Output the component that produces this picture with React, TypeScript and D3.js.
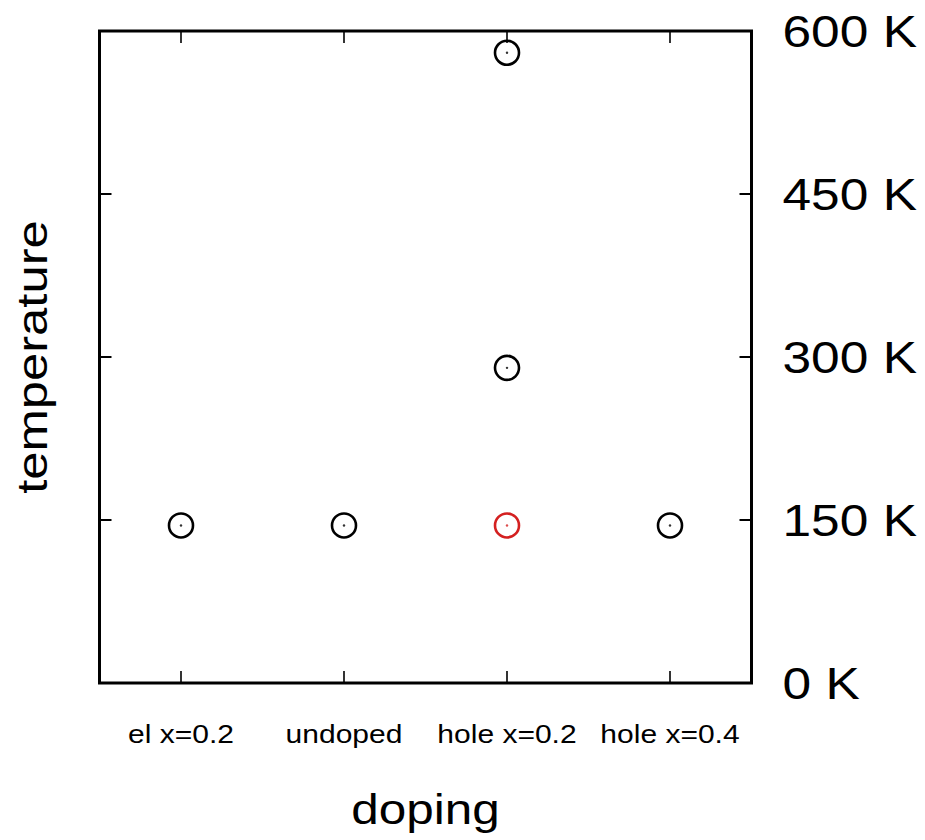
import React from "react";
import * as d3 from "d3";

const categories = ["el x=0.2", "undoped", "hole x=0.2", "hole x=0.4"];
const pointCategories = ["el x=0.2", "undoped", "hole x=0.2", "hole x=0.4", "hole x=0.2", "hole x=0.2"];
const pointTemperatures = [145, 145, 145, 145, 290, 580];
const pointHighlighted = [false, false, true, false, false, false];
const yTicks = [0, 150, 300, 450, 600];
const yTickLabels = ["0 K", "150 K", "300 K", "450 K", "600 K"];
const xTitle = "doping";
const yTitle = "temperature";

const W = 925;
const H = 840;
const left = 99.5;
const right = 751.5;
const top = 31;
const bottom = 683;
const FONT = "'Liberation Sans', Arial, sans-serif";
const SX = 1.17;

export default function App() {
  const x = d3.scalePoint<string>().domain(categories).range([left, right]).padding(0.5);
  const y = d3.scaleLinear().domain([0, 600]).range([bottom, top]);
  const tickLen = 12;

  return (
    <svg
      width={W}
      height={H}
      style={{ position: "absolute", left: 0, top: 0, background: "#fff" }}
      xmlns="http://www.w3.org/2000/svg"
    >
      <rect x={0} y={0} width={W} height={H} fill="#fff" />
      {yTicks.map((t, i) => (
        <g key={"yt" + i}>
          <line x1={left} x2={left + tickLen} y1={y(t)} y2={y(t)} stroke="#000" strokeWidth={2} />
          <line x1={right} x2={right - tickLen} y1={y(t)} y2={y(t)} stroke="#000" strokeWidth={2} />
          <text
            transform={`translate(${right + 31}, ${y(t)}) scale(${SX}, 1)`}
            dy="0.36em"
            fontFamily={FONT}
            fontSize={44}
            fill="#000"
          >
            {yTickLabels[i]}
          </text>
        </g>
      ))}
      {categories.map((c) => (
        <g key={"xt" + c}>
          <line x1={x(c)} x2={x(c)} y1={bottom} y2={bottom - tickLen} stroke="#000" strokeWidth={1.6} />
          <line x1={x(c)} x2={x(c)} y1={top} y2={top + tickLen} stroke="#000" strokeWidth={1.6} />
          <text
            transform={`translate(${x(c)}, 743) scale(1.2, 1)`}
            textAnchor="middle"
            fontFamily={FONT}
            fontSize={25}
            fill="#000"
          >
            {c}
          </text>
        </g>
      ))}
      <rect
        x={left}
        y={top}
        width={right - left}
        height={bottom - top}
        fill="none"
        stroke="#000"
        strokeWidth={3}
      />
      {pointTemperatures.map((v, i) => {
        const cx = x(pointCategories[i]) as number;
        const cy = y(v);
        const col = pointHighlighted[i] ? "#d42020" : "#000";
        return (
          <g key={"p" + i}>
            <circle cx={cx} cy={cy} r={12} fill="none" stroke={col} strokeWidth={2.6} />
            <circle cx={cx} cy={cy} r={1.2} fill={col} opacity={0.8} />
          </g>
        );
      })}
      <text
        transform={`translate(${(left + right) / 2}, 824) scale(1.15, 1)`}
        textAnchor="middle"
        fontFamily={FONT}
        fontSize={43}
        fill="#000"
      >
        {xTitle}
      </text>
      <text
        transform={`translate(47, ${(top + bottom) / 2}) rotate(-90) scale(1.18, 1)`}
        textAnchor="middle"
        fontFamily={FONT}
        fontSize={43}
        fill="#000"
      >
        {yTitle}
      </text>
    </svg>
  );
}
